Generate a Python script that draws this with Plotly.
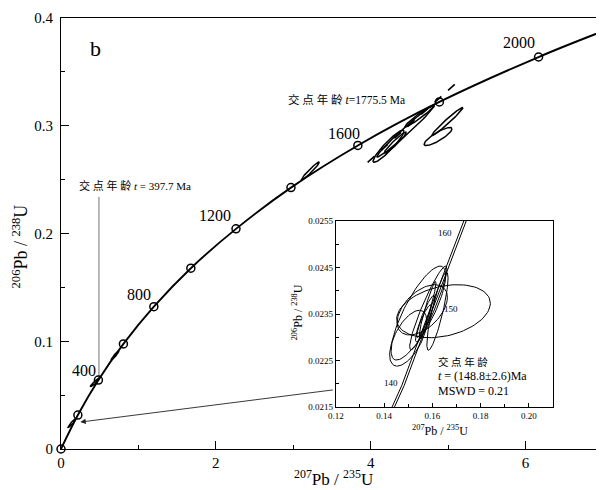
import numpy as np
import plotly.graph_objects as go

# ---------------- data ----------------
# main concordia: age markers (Ma) and their positions
conc_age = [0, 200, 400, 600, 800, 1000, 1200, 1400, 1600, 1800, 2000]
conc_x = [0.0, 0.218, 0.483, 0.806, 1.199, 1.677, 2.260, 2.970, 3.834, 4.887, 6.168]
conc_y = [0.0, 0.0315, 0.0640, 0.0975, 0.1321, 0.1678, 0.2043, 0.2426, 0.2817, 0.3221, 0.3638]
conc_end_x = [7.0]
conc_end_y = [0.3878]

age_labels = ["400", "800", "1200", "1600", "2000"]
age_label_x = [0.30, 1.01, 1.99, 3.66, 5.92]
age_label_y = [0.0733, 0.143, 0.217, 0.293, 0.377]

# main-plot error ellipses: centre, x error, y error, correlation
main_cx = [0.14, 0.44, 0.70, 3.22, 4.23, 4.45, 4.32, 4.63, 4.99, 4.87]
main_cy = [0.024, 0.062, 0.087, 0.258, 0.281, 0.295, 0.2845, 0.309, 0.304, 0.290]
main_sx = [0.05, 0.06, 0.05, 0.117, 0.20, 0.37, 0.143, 0.19, 0.20, 0.18]
main_sy = [0.004, 0.004, 0.004, 0.0084, 0.0149, 0.024, 0.0097, 0.0102, 0.013, 0.0084]
main_rho = [0.95, 0.95, 0.95, 0.97, 0.93, 0.985, 0.96, 0.97, 0.98, 0.85]

# discordia (upper part, dashed) and lower-intercept marker
disc_x = [3.96, 5.14]
disc_y = [0.266, 0.342]
lower_int_x = [0.49, 0.49]
lower_int_y = [0.064, 0.234]

# inset concordia envelope (two bounding lines)
ins_conc_y = [0.0215, 0.02196, 0.02354, 0.02513, 0.0255]
ins_conc_x_lo = [0.1433, 0.1473, 0.1586, 0.1701, 0.1730]
ins_conc_x_hi = [0.1443, 0.1483, 0.1596, 0.1711, 0.1740]
ins_age_labels = ["160", "150", "140"]
ins_age_x = [0.1654, 0.1675, 0.1429]
ins_age_y = [0.02524, 0.02361, 0.02202]

# inset error ellipses
ins_cx = [0.1646, 0.1542, 0.1621, 0.1500, 0.1558, 0.1583, 0.1570, 0.1565, 0.1580]
ins_cy = [0.02356, 0.02352, 0.02356, 0.02298, 0.02359, 0.02363, 0.02340, 0.02335, 0.02360]
ins_sx = [0.0194, 0.0113, 0.0044, 0.0077, 0.0104, 0.0077, 0.0040, 0.0030, 0.0035]
ins_sy = [0.00057, 0.00101, 0.00084, 0.00060, 0.00054, 0.00090, 0.00050, 0.00035, 0.00060]
ins_rho = [0.3, 0.8, 0.85, 0.6, 0.5, 0.93, 0.9, 0.9, 0.95]

SERIF = "Liberation Serif, Noto Sans CJK SC, serif"


def ellipse(cx, cy, sx, sy, rho, n=90):
    t = np.linspace(0, 2 * np.pi, n)
    x = cx + sx * np.cos(t)
    y = cy + sy * (rho * np.cos(t) + np.sqrt(1 - rho ** 2) * np.sin(t))
    return x, y


fig = go.Figure()

# concordia curve
fig.add_trace(go.Scatter(x=conc_x + conc_end_x, y=conc_y + conc_end_y, mode="lines",
                         line=dict(color="black", width=1.9, shape="spline", smoothing=1.0),
                         hoverinfo="skip", showlegend=False))
# lower intercept vertical line
fig.add_trace(go.Scatter(x=lower_int_x, y=lower_int_y, mode="lines",
                         line=dict(color="#666666", width=0.9), showlegend=False))
# dashed discordia
fig.add_trace(go.Scatter(x=disc_x, y=disc_y, mode="lines",
                         line=dict(color="black", width=1.6, dash="dash"), showlegend=False))
# main ellipses
for cx, cy, sx, sy, r in zip(main_cx, main_cy, main_sx, main_sy, main_rho):
    ex, ey = ellipse(cx, cy, sx, sy, r)
    fig.add_trace(go.Scatter(x=ex, y=ey, mode="lines",
                             line=dict(color="black", width=1.5), showlegend=False))
# age markers
fig.add_trace(go.Scatter(x=conc_x, y=conc_y, mode="markers", cliponaxis=False,
                         marker=dict(symbol="circle-open", size=8, color="black",
                                     line=dict(width=1.5, color="black")),
                         text=[str(a) for a in conc_age], showlegend=False))

# inset concordia
for xs in (ins_conc_x_lo, ins_conc_x_hi):
    fig.add_trace(go.Scatter(x=xs, y=ins_conc_y, mode="lines", xaxis="x2", yaxis="y2",
                             line=dict(color="black", width=1.0), showlegend=False))
for cx, cy, sx, sy, r in zip(ins_cx, ins_cy, ins_sx, ins_sy, ins_rho):
    ex, ey = ellipse(cx, cy, sx, sy, r)
    fig.add_trace(go.Scatter(x=ex, y=ey, mode="lines", xaxis="x2", yaxis="y2",
                             line=dict(color="black", width=1.0), showlegend=False))

annotations = []
for lab, x, y in zip(age_labels, age_label_x, age_label_y):
    annotations.append(dict(x=x, y=y, xref="x", yref="y", text=lab, showarrow=False,
                            xanchor="center", yanchor="middle",
                            font=dict(family=SERIF, size=16, color="black")))
annotations += [
    dict(x=0.44, y=0.372, xref="x", yref="y", text="b", showarrow=False,
         xanchor="center", yanchor="middle",
         font=dict(family=SERIF, size=22, color="black")),
    dict(x=0.96, y=0.2442, xref="x", yref="y", text="交 点 年 龄 <i>t</i> = 397.7 Ma",
         xanchor="center", yanchor="middle",
         showarrow=False, font=dict(family=SERIF, size=11, color="black")),
    dict(x=3.69, y=0.324, xref="x", yref="y", text="交 点 年 龄 <i>t</i>=1775.5 Ma",
         xanchor="center", yanchor="middle",
         showarrow=False, font=dict(family=SERIF, size=11.5, color="black")),
    # arrow from inset to origin area
    dict(x=0.25, y=0.025, xref="x", yref="y", ax=3.53, ay=0.055, axref="x", ayref="y",
         showarrow=True, arrowhead=2, arrowsize=1.2, arrowwidth=0.9, arrowcolor="#222222",
         text=""),
    # main axis titles
    dict(x=0.503, y=-0.067, xref="paper", yref="paper", xanchor="center", yanchor="middle",
         text="<sup>207</sup>Pb / <sup>235</sup>U", showarrow=False,
         font=dict(family=SERIF, size=17, color="black")),
    dict(x=-0.0756, y=0.47, xref="paper", yref="paper", xanchor="center", yanchor="middle",
         text="<sup>206</sup>Pb / <sup>238</sup>U", showarrow=False, textangle=-90,
         font=dict(family=SERIF, size=18, color="black")),
    # inset axis titles
    dict(x=0.699, y=0.042, xref="paper", yref="paper", xanchor="center", yanchor="middle",
         text="<sup>207</sup>Pb / <sup>235</sup>U", showarrow=False,
         font=dict(family=SERIF, size=12, color="black")),
    dict(x=0.438, y=0.318, xref="paper", yref="paper", xanchor="center", yanchor="middle",
         text="<sup>206</sup>Pb / <sup>238</sup>U", showarrow=False, textangle=-90,
         font=dict(family=SERIF, size=12, color="black")),
    # inset texts
    dict(x=0.1613, y=0.022478, xref="x2", yref="y2", text="交 点 年 龄", xanchor="left",
         yanchor="middle",
         showarrow=False, font=dict(family=SERIF, size=10.5, color="black")),
    dict(x=0.1613, y=0.022167, xref="x2", yref="y2", text="<i>t</i> = (148.8±2.6)Ma",
         xanchor="left", yanchor="middle",
         showarrow=False, font=dict(family=SERIF, size=12, color="black")),
    dict(x=0.1613, y=0.021855, xref="x2", yref="y2", text="MSWD = 0.21", xanchor="left",
         yanchor="middle",
         showarrow=False, font=dict(family=SERIF, size=12, color="black")),
]
for lab, x, y in zip(ins_age_labels, ins_age_x, ins_age_y):
    annotations.append(dict(x=x, y=y, xref="x2", yref="y2", text=lab, showarrow=False,
                            xanchor="center", yanchor="middle",
                            font=dict(family=SERIF, size=9, color="black")))

axis_common = dict(showgrid=False, zeroline=False, showline=True, mirror=True,
                   linecolor="black", ticks="inside", tickcolor="black")

# page body has an 8px default margin, so the figure is sized to fit the window
fig.update_layout(
    width=596, height=482,
    margin=dict(l=53, r=1, t=10, b=41),
    paper_bgcolor="white", plot_bgcolor="white",
    showlegend=False,
    font=dict(family=SERIF, color="black"),
    xaxis=dict(range=[0, 7], dtick=2, tick0=0, ticklen=8, linewidth=1.2,
               tickfont=dict(family=SERIF, size=15),
               minor=dict(dtick=1, ticks="inside", ticklen=4, tickcolor="black"),
               **axis_common),
    yaxis=dict(range=[0, 0.4], dtick=0.1, tick0=0, ticklen=8, linewidth=1.2,
               tickfont=dict(family=SERIF, size=15), ticklabelstandoff=4,
               minor=dict(dtick=0.05, ticks="inside", ticklen=4, tickcolor="black"),
               **axis_common),
    xaxis2=dict(domain=[0.507, 0.908], anchor="y2", range=[0.12, 0.21], dtick=0.02,
                tick0=0.12, tickformat=".2f", ticklen=4, linewidth=1.2,
                tickfont=dict(family=SERIF, size=9),
                minor=dict(dtick=0.01, ticks="inside", ticklen=3, tickcolor="black"),
                **axis_common),
    yaxis2=dict(domain=[0.0974, 0.529], anchor="x2", range=[0.0215, 0.0255], dtick=0.001,
                tick0=0.0215, tickformat=".4f", ticklen=4, linewidth=1.2,
                tickfont=dict(family=SERIF, size=9),
                minor=dict(dtick=0.0005, ticks="inside", ticklen=3, tickcolor="black"),
                **axis_common),
    annotations=annotations,
)

fig.write_html("out.html")
